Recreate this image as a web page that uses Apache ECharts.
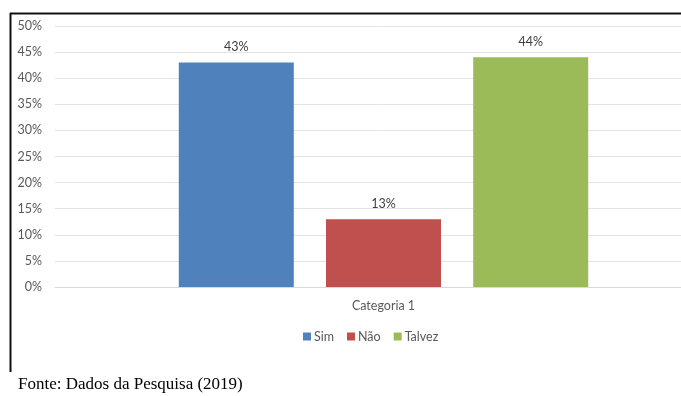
<!DOCTYPE html>
<html>
<head>
<meta charset="utf-8">
<script src="https://cdn.jsdelivr.net/npm/echarts@6/dist/echarts.min.js"></script>
<style>
  html, body { margin: 0; padding: 0; background: #fff; overflow: hidden; }
  #wrap { width: 681px; height: 396px; overflow: hidden; }
  #chart { width: 712px; height: 396px; }
</style>
</head>
<body>
<div id="wrap"><div id="chart"></div></div>
<script>
// Survey responses (percent) for a single category
const categories = ['Categoria 1'];
const seriesNames = ['Sim', 'Não', 'Talvez'];
const sim = [43];
const nao = [13];
const talvez = [44];
const yTicks = [0, 5, 10, 15, 20, 25, 30, 35, 40, 45, 50];

const colors = ['#4f81bd', '#c0504d', '#9bbb59'];
const seriesValues = [sim, nao, talvez];
const labelFont = 'Lato, "Open Sans", sans-serif';

const chart = echarts.init(document.getElementById('chart'));
chart.setOption({
  animation: false,
  textStyle: { fontFamily: labelFont },
  grid: { left: 55, top: 26, right: 0, height: 261, containLabel: false },
  xAxis: {
    type: 'category',
    data: categories,
    axisLine: { show: true, lineStyle: { color: '#d9d9d9' } },
    axisTick: { show: false },
    axisLabel: { color: '#595959', fontSize: 12.5, margin: 12, fontFamily: labelFont }
  },
  yAxis: {
    type: 'value',
    min: yTicks[0],
    max: yTicks[yTicks.length - 1],
    interval: yTicks[1] - yTicks[0],
    axisLine: { show: false },
    axisTick: { show: false },
    axisLabel: { color: '#595959', fontSize: 12.5, margin: 13, formatter: '{value}%', fontFamily: labelFont },
    splitLine: { lineStyle: { color: '#e3e3e3', width: 1 } }
  },
  legend: {
    left: 298,
    top: 325,
    itemWidth: 8,
    itemHeight: 8,
    itemGap: 13,
    icon: 'rect',
    textStyle: { color: '#595959', fontSize: 12.5, padding: [0, 0, 0, -2], fontFamily: labelFont },
    data: seriesNames
  },
  series: seriesNames.map((name, i) => ({
    name: name,
    type: 'bar',
    data: seriesValues[i],
    barWidth: 115,
    barGap: '28%',
    itemStyle: { color: colors[i] },
    label: {
      show: true,
      position: 'top',
      distance: 9,
      color: '#404040',
      fontSize: 12.5,
      fontFamily: labelFont,
      formatter: '{c}%'
    }
  })),
  graphic: [
    // frame around the chart area
    { type: 'line', shape: { x1: 10, y1: 13.5, x2: 712, y2: 13.5 }, style: { stroke: '#111', lineWidth: 2 } },
    { type: 'line', shape: { x1: 10.5, y1: 13, x2: 10.5, y2: 372 }, style: { stroke: '#111', lineWidth: 2 } },
    {
      type: 'text',
      left: 18,
      top: 376,
      style: {
        text: 'Fonte: Dados da Pesquisa (2019)',
        fill: '#000',
        font: '17px "Liberation Serif", "Times New Roman", serif'
      }
    }
  ]
});
</script>
</body>
</html>
